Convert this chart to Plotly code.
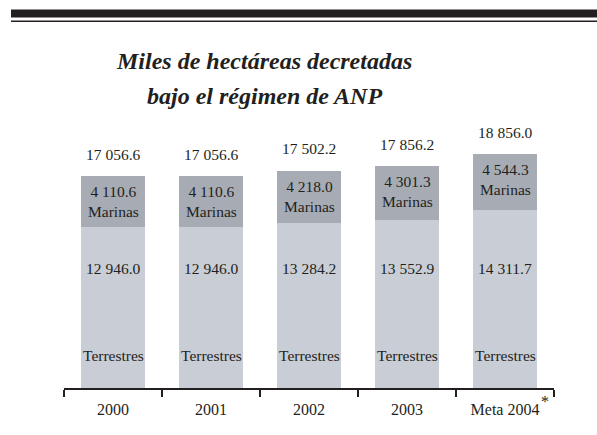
import plotly.graph_objects as go

categories = ["2000", "2001", "2002", "2003", "Meta 2004"]
terrestres = [12946.0, 12946.0, 13284.2, 13552.9, 14311.7]
marinas = [4110.6, 4110.6, 4218.0, 4301.3, 4544.3]
totales = [17056.6, 17056.6, 17502.2, 17856.2, 18856.0]
nota = "*"


def fmt(v):
    s = f"{v:,.1f}"
    return s.replace(",", " ")


W, H = 597, 435
L, R, T, B = 64, 43, 120, 47
plot_w = W - L - R
plot_h = H - T - B
YMAX = 21600

def px_x(px):
    return (px - L) / plot_w

def px_y(py):
    return (H - B - py) / plot_h

FONT = "Liberation Serif"
TXT = "#231f20"
C_MAR = "#a7acb4"
C_TER = "#c9cdd5"

fig = go.Figure()
fig.add_bar(x=categories, y=terrestres, name="Terrestres",
            marker=dict(color=C_TER, line=dict(width=0)), width=0.663)
fig.add_bar(x=categories, y=marinas, name="Marinas",
            marker=dict(color=C_MAR, line=dict(width=0)), width=0.663)

ann = []
for i, (t, m, tot) in enumerate(zip(terrestres, marinas, totales)):
    ann.append(dict(x=i, y=tot, xref="x", yref="y", text=fmt(tot), showarrow=False,
                    yanchor="middle", yshift=22, font=dict(size=15.5, color=TXT, family=FONT)))
    ann.append(dict(x=i, y=tot, xref="x", yref="y", text=fmt(m) + "<br>Marinas", showarrow=False,
                    yanchor="top", yshift=-5, font=dict(size=15.5, color=TXT, family=FONT)))
    ann.append(dict(x=i, y=px_y(268), xref="x", yref="paper", text=fmt(t), showarrow=False,
                    yanchor="middle", font=dict(size=15.5, color=TXT, family=FONT)))
    ann.append(dict(x=i, y=px_y(355), xref="x", yref="paper", text="Terrestres", showarrow=False,
                    yanchor="middle", font=dict(size=15.5, color=TXT, family=FONT)))

# footnote marker next to the last category label
ann.append(dict(x=px_x(539), y=px_y(401), xref="paper", yref="paper", text=nota,
                showarrow=False, xanchor="left", yanchor="middle",
                font=dict(size=16, color=TXT, family=FONT)))

ann.append(dict(x=px_x(264), y=px_y(61), xref="paper", yref="paper",
                text="<b><i>Miles de hectáreas decretadas</i></b>", showarrow=False,
                xanchor="center", yanchor="middle", font=dict(size=24, color=TXT, family=FONT)))
ann.append(dict(x=px_x(264), y=px_y(96), xref="paper", yref="paper",
                text="<b><i>bajo el régimen de ANP</i></b>", showarrow=False,
                xanchor="center", yanchor="middle", font=dict(size=24, color=TXT, family=FONT)))

shapes = [
    dict(type="rect", xref="paper", yref="paper", x0=px_x(11), x1=px_x(597),
         y0=px_y(17.5), y1=px_y(9.5), fillcolor="#231f20", line=dict(width=0), layer="above"),
    dict(type="rect", xref="paper", yref="paper", x0=px_x(11), x1=px_x(597),
         y0=px_y(22), y1=px_y(20.5), fillcolor="#231f20", line=dict(width=0), layer="above"),
]

fig.update_layout(
    width=W, height=H,
    margin=dict(l=L, r=R, t=T, b=B, pad=0),
    barmode="stack",
    showlegend=False,
    plot_bgcolor="white", paper_bgcolor="white",
    annotations=ann, shapes=shapes,
    font=dict(family=FONT, color=TXT),
    xaxis=dict(type="category", showline=True, linecolor="#231f20", linewidth=2,
               ticks="outside", tickson="boundaries", ticklen=7, tickwidth=1.5,
               tickcolor="#231f20", showgrid=False, zeroline=False, tickangle=0,
               ticklabelstandoff=6,
               tickfont=dict(size=16, family=FONT, color=TXT), fixedrange=True),
    yaxis=dict(range=[0, YMAX], visible=False, showgrid=False, zeroline=False, fixedrange=True),
)

fig.write_html("out.html", config={"displayModeBar": False},
               post_script="document.body.style.margin='0px';")
